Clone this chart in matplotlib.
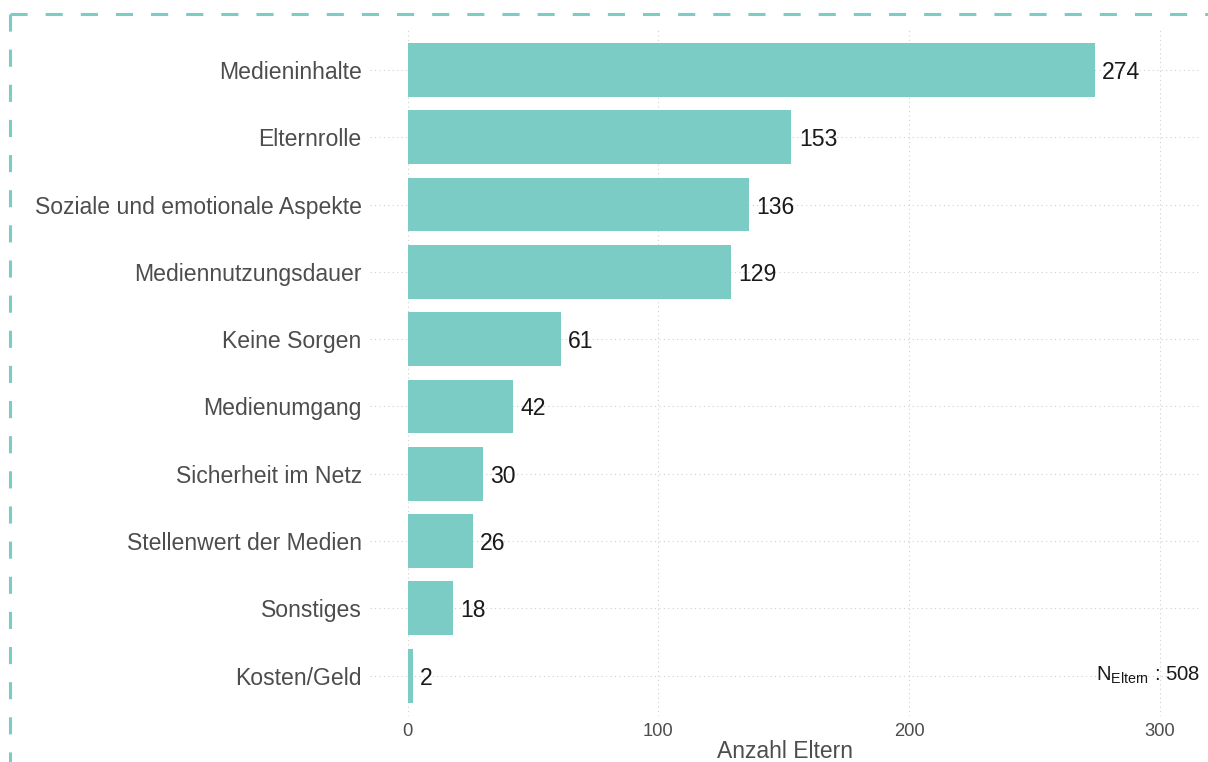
import numpy as np
import matplotlib
matplotlib.use("Agg")
import matplotlib.pyplot as plt
from matplotlib.lines import Line2D

plt.rcParams['font.family'] = ['Liberation Sans', 'DejaVu Sans']
plt.rcParams['mathtext.fontset'] = 'custom'
plt.rcParams['mathtext.rm'] = 'Liberation Sans'

# data
kategorien = ["Medieninhalte", "Elternrolle", "Soziale und emotionale Aspekte",
              "Mediennutzungsdauer", "Keine Sorgen", "Medienumgang",
              "Sicherheit im Netz", "Stellenwert der Medien", "Sonstiges",
              "Kosten/Geld"]
anzahl = [274, 153, 136, 129, 61, 42, 30, 26, 18, 2]
n_eltern = 508
x_ticks = [0, 100, 200, 300]

teal = "#7BCCC4"
grau = "#4D4D4D"

fig = plt.figure(figsize=(12.08, 7.62), dpi=100)
ax = fig.add_axes([370 / 1208, 1 - 716 / 762, 830 / 1208, (716 - 29.6) / 762])

y = np.arange(len(kategorien))
ax.barh(y, anzahl, height=0.8, color=teal, zorder=2)
for yi, v in zip(y, anzahl):
    ax.text(v + 3, yi, str(v), va='center_baseline', ha='left', fontsize=16.6,
            color='#1a1a1a', zorder=3)

ax.set_yticks(y)
ax.set_yticklabels(kategorien, fontsize=16.6, color=grau)
ax.set_xticks(x_ticks)
ax.set_xticklabels([str(t) for t in x_ticks], fontsize=13.2, color=grau)
ax.set_xlim(-15, 316)
ax.set_ylim(len(kategorien) - 1 + 0.6, -0.6)
ax.tick_params(axis='y', length=0, pad=6)
ax.tick_params(axis='x', length=0, pad=5)
ax.set_xlabel("Anzahl Eltern", fontsize=16.5, color=grau, labelpad=0)

ax.grid(True, color='#d0d0d0', linestyle=(0, (1, 3)), linewidth=0.8, zorder=0)
ax.set_axisbelow(True)
for s in ax.spines.values():
    s.set_visible(False)

ax.text(316, len(kategorien) - 1, r'N$_{\mathrm{Eltern}}$ : ' + str(n_eltern),
        ha='right', va='center', fontsize=14.6, color='#1a1a1a')

# gestrichelter Rahmen
top = 1 - 14 / 762
left = 10 / 1208
fig.add_artist(Line2D([left, 1.05], [top, top], transform=fig.transFigure,
                      color=teal, lw=2.2, dashes=(5.6, 5.9), dash_capstyle='butt'))
fig.add_artist(Line2D([left, left], [top, -0.05], transform=fig.transFigure,
                      color=teal, lw=2.2, dashes=(5.6, 5.9), dash_capstyle='butt'))

fig.savefig("out.png", dpi=100)
